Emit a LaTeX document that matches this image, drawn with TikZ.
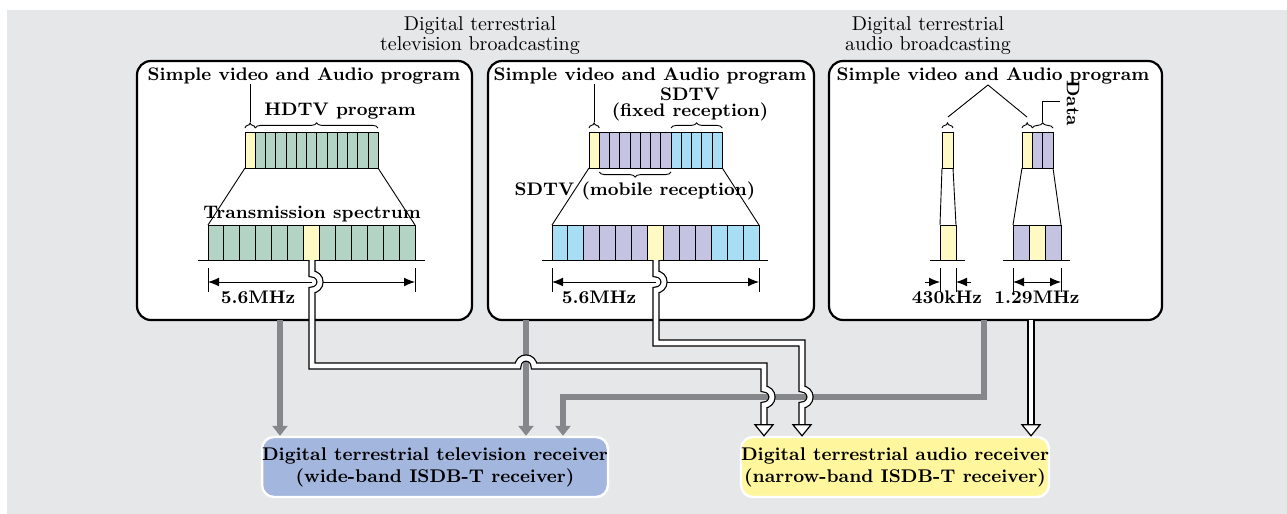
\documentclass[tikz,border=0pt]{standalone}
\usepackage{tikz}
\usetikzlibrary{arrows.meta,decorations.pathreplacing}

\definecolor{bggray}{RGB}{230,231,233}
\definecolor{hdgreen}{RGB}{179,212,196}
\definecolor{audyel}{RGB}{255,249,196}
\definecolor{mobpur}{RGB}{196,196,226}
\definecolor{fixblue}{RGB}{168,222,245}
\definecolor{feedgray}{RGB}{134,135,138}
\definecolor{tvblue}{RGB}{163,182,222}
\definecolor{audbox}{RGB}{255,246,158}

\tikzset{
  panel/.style={draw, line width=1.1pt, rounded corners=7pt, fill=white, inner sep=0pt},
  specline/.style={line width=0.45pt},
  brc/.style={decorate, decoration={brace, amplitude=2.6pt}, line width=0.45pt},
  feed/.style={draw=feedgray, line width=2.6pt, -{Triangle[length=5pt, width=7.5pt]}},
  wire/.style={draw=black, line width=0.6pt, double=white, double distance=2.4pt},
  wirehead/.pic={\filldraw[fill=white, line width=0.6pt] (0,0) -- (-9,-11) -- (9,-11) -- cycle;},
  titletxt/.style={font=\fontsize{10}{10}\selectfont, align=center, inner sep=0pt},
  lbl/.style={font=\fontsize{9.1}{9}\selectfont\bfseries, inner sep=0pt},
  receiver/.style={draw=white, line width=1.2pt, rounded corners=6pt, minimum height=30pt,
    align=center, inner sep=0pt, font=\fontsize{9.2}{11}\selectfont\bfseries}
}

\begin{document}
\begin{tikzpicture}[x=0.5pt, y=-0.5pt, >={Latex[length=5.5pt, width=4.4pt]}]
\useasboundingbox (0,0) rectangle (1287,514);
\fill[bggray] (7,10) rectangle (1287,514);

\node[titletxt] (tvtitle) at (480,36) {Digital terrestrial\\television broadcasting};
\node[titletxt] (autitle) at (928,36) {Digital terrestrial\\audio broadcasting};

\node[panel, minimum width=167.5pt, minimum height=129.5pt] (pan1) at (304.5,190.5) {};
\node[panel, minimum width=163pt, minimum height=129.5pt] (pan2) at (651,190.5) {};
\node[panel, minimum width=166.5pt, minimum height=129.5pt] (pan3) at (995.5,190.5) {};

% HDTV
\node[lbl, anchor=base] (hd1) at (304,80) {Simple video and Audio program};
\draw[specline, fill=audyel] (245,132) rectangle ++(10.25,36);
\foreach \i in {1,...,12}
  \draw[specline, fill=hdgreen] ({245+\i*10.25},132) rectangle ++(10.25,36);
\draw[brc] (245,128) -- (255.25,128);
\draw[brc] (255.25,128) -- (378,128);
\draw[specline] (250,84) -- (250,122);
\node[lbl, anchor=base] at (340,115) {HDTV program};
\draw[specline] (245,168) -- (208,225) (378,168) -- (415,225);
\node[lbl, anchor=base] at (312,218) {Transmission spectrum};
\foreach \i in {0,...,12}
  \draw[specline, fill=hdgreen] ({208+\i*15.92},225) rectangle ++(15.92,35);
\draw[specline, fill=audyel] ({208+6*15.92},225) rectangle ++(15.92,35);
\draw[specline] (198,260) -- (425,260);
\draw[specline] (208,268) -- (208,292) (415,268) -- (415,292);
\draw[specline, ->] (312,282) -- (208,282);
\draw[specline, ->] (320,282) -- (415,282);
\node[lbl, anchor=base] at (258,303) {5.6MHz};

% SDTV
\node[lbl, anchor=base] (hd2) at (650,80) {Simple video and Audio program};
\foreach \c [count=\i from 0] in {audyel,mobpur,mobpur,mobpur,mobpur,mobpur,mobpur,mobpur,fixblue,fixblue,fixblue,fixblue,fixblue}
  \draw[specline, fill=\c] ({589+\i*10.25},132) rectangle ++(10.25,36);
\draw[brc] (589,128) -- (599.25,128);
\draw[brc] (671,128) -- (722.25,128);
\draw[brc] (671,172) -- (599.25,172);
\draw[specline] (594,84) -- (594,122);
\node[lbl, anchor=base] at (690,100) {SDTV};
\node[lbl, anchor=base] at (690,116) {(fixed reception)};
\node[lbl, anchor=base] at (635,195) {SDTV (mobile reception)};
\draw[specline] (589,168) -- (552,225) (722.25,168) -- (759,225);
\foreach \c [count=\i from 0] in {fixblue,fixblue,mobpur,mobpur,mobpur,mobpur,audyel,mobpur,mobpur,mobpur,fixblue,fixblue,fixblue}
  \draw[specline, fill=\c] ({552+\i*15.92},225) rectangle ++(15.92,35);
\draw[specline] (542,260) -- (768,260);
\draw[specline] (552,268) -- (552,292) (759,268) -- (759,292);
\draw[specline, ->] (656,282) -- (552,282);
\draw[specline, ->] (664,282) -- (759,282);
\node[lbl, anchor=base] at (599,303) {5.6MHz};

% audio only
\node[lbl, anchor=base] (hd3) at (993,80) {Simple video and Audio program};
\draw[specline] (948,117) -- (988,85) -- (1027,117);
\draw[specline, fill=audyel] (942,132) rectangle (953,168);
\draw[brc] (942,128) -- (953,128);
\draw[specline] (942,168) -- (940,225) (953,168) -- (956,225);
\draw[specline, fill=audyel] (940,225) rectangle (956,260);
\draw[specline] (930,260) -- (965,260);
\draw[specline] (940,268) -- (940,292) (956,268) -- (956,292);
\draw[specline, ->] (925,282) -- (940,282);
\draw[specline, ->] (971,282) -- (956,282);
\node[lbl, anchor=base] at (947,303) {430kHz};
\foreach \c [count=\i from 0] in {audyel,mobpur,mobpur}
  \draw[specline, fill=\c] ({1022+\i*10.33},132) rectangle ++(10.33,36);
\draw[brc] (1022,128) -- (1032.33,128);
\draw[brc] (1032.33,128) -- (1053,128);
\draw[specline] (1042.7,122) -- (1042.7,101) -- (1060,101);
\node[lbl, rotate=-90] at (1073,103) {Data};
\draw[specline] (1022,168) -- (1013,225) (1053,168) -- (1061,225);
\foreach \c [count=\i from 0] in {mobpur,audyel,mobpur}
  \draw[specline, fill=\c] ({1013+\i*16},225) rectangle ++(16,35);
\draw[specline] (1003,260) -- (1070,260);
\draw[specline] (1013,268) -- (1013,292) (1061,268) -- (1061,292);
\draw[specline, <->] (1013,282) -- (1061,282);
\node[lbl, anchor=base] at (1037,303) {1.29MHz};

\node[receiver, fill=tvblue, minimum width=172.5pt] (tvrx) at (435,467)
  {Digital terrestrial television receiver\\(wide-band ISDB-T receiver)};
\node[receiver, fill=audbox, minimum width=153.5pt] (audrx) at (895,467)
  {Digital terrestrial audio receiver\\(narrow-band ISDB-T receiver)};

\coordinate (f1) at (280,320);
\coordinate (f2) at (526,320);
\coordinate (f3) at (984,320);
\coordinate (f3k) at (563,397);
\draw[feed] (f1) -- (f1 |- tvrx.north);
\draw[feed] (f2) -- (f2 |- tvrx.north);
\draw[feed] (f3) |- (f3k) -- (f3k |- tvrx.north);

\coordinate (w1) at (312,260);
\coordinate (w2) at (656,260);
\coordinate (w3) at (1031,320);
\coordinate (k1) at (764,366);
\coordinate (k2) at (802,343);
\draw[wire] (w1) -- (312,274) arc[start angle=-90, end angle=90, radius=8] |- (518,366)
  arc[start angle=180, end angle=360, radius=8] -- (k1) -- (764,389)
  arc[start angle=-90, end angle=90, radius=8] -- (764,426);
\draw[wire] (w2) -- (656,274) arc[start angle=-90, end angle=90, radius=8] |- (k2) -- (802,389)
  arc[start angle=-90, end angle=90, radius=8] -- (802,426);
\draw[wire] (w3) -- (1031,426);
\pic at (k1 |- audrx.north) {wirehead};
\pic at (k2 |- audrx.north) {wirehead};
\pic at (w3 |- audrx.north) {wirehead};
\end{tikzpicture}
\end{document}
